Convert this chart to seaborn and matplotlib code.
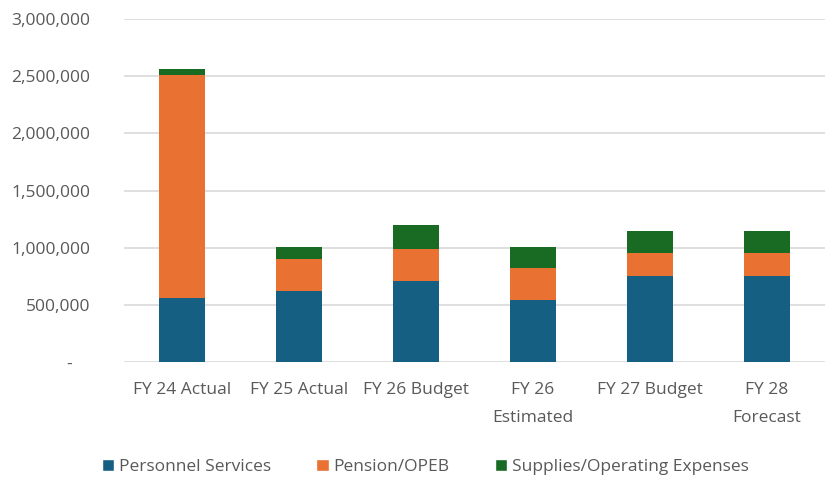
import pandas as pd
import seaborn as sns
import matplotlib.pyplot as plt
from matplotlib.patches import Patch
from matplotlib.ticker import FuncFormatter


categories = ["FY 24 Actual", "FY 25 Actual", "FY 26 Budget", "FY 26\nEstimated", "FY 27 Budget", "FY 28\nForecast"]
personnel = [560000, 624000, 708000, 542000, 755000, 755000]
pension = [1953000, 280000, 280000, 280000, 197000, 197000]
supplies = [47000, 101000, 212000, 183000, 198000, 198000]

series_names = ["Personnel Services", "Pension/OPEB", "Supplies/Operating Expenses"]
colors = ["#156082", "#E97132", "#196B24"]


def formatter(v, pos):
    if v == 0:
        return "-    "
    return f"{v:,.0f}"


def main():
    df = pd.DataFrame({
        "category": categories,
        "personnel": personnel,
        "pension": pension,
        "supplies": supplies,
    })
    df["level2"] = df["personnel"] + df["pension"]
    df["level3"] = df["level2"] + df["supplies"]

    sns.set_style("white")
    plt.rcParams["font.family"] = ["Open Sans", "DejaVu Sans"]

    fig, ax = plt.subplots(figsize=(8.31, 4.79), dpi=100)
    fig.subplots_adjust(left=0.149, right=0.993, top=0.96, bottom=0.244)

    # stacked bars: draw totals first, then cover with lower layers
    for col, color in zip(["level3", "level2", "personnel"], colors[::-1]):
        sns.barplot(data=df, x="category", y=col, color=color, width=0.395,
                    saturation=1, linewidth=0, ax=ax, zorder=3)

    ax.set_ylim(0, 3000000)
    ax.set_yticks(range(0, 3000001, 500000))
    ax.yaxis.set_major_formatter(FuncFormatter(formatter))
    ax.grid(axis="y", color="#D9D9D9", linewidth=1.2, zorder=0)
    for s in ax.spines.values():
        s.set_visible(False)
    ax.set_xlabel("")
    ax.set_ylabel("")
    ax.tick_params(axis="both", length=0, labelsize=12.5, labelcolor="#595959")
    ax.tick_params(axis="y", pad=24)
    ax.tick_params(axis="x", pad=14)
    for lbl in ax.get_xticklabels():
        lbl.set_linespacing(2.0)

    handles = [Patch(facecolor=c, label=n) for c, n in zip(colors, series_names)]
    fig.legend(handles=handles, loc="center", bbox_to_anchor=(0.512, 0.025), ncol=3,
               frameon=False, fontsize=12.5, handlelength=0.7, handleheight=0.7,
               columnspacing=2.6, handletextpad=0.3, labelcolor="#595959",
               borderpad=0)

    plt.savefig("out.png", dpi=100)
    plt.close()


if __name__ == "__main__":
    main()
